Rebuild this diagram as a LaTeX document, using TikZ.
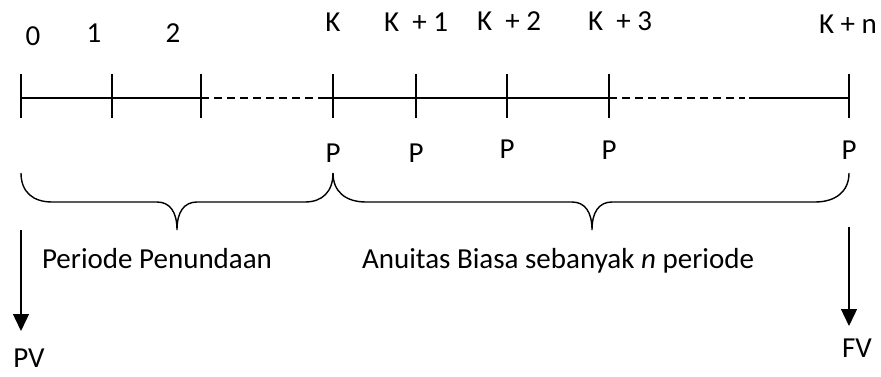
\documentclass[tikz,border=0pt]{standalone}
\usepackage{fontspec}
\setmainfont{Carlito}
\usetikzlibrary{arrows.meta}
\begin{document}
\begin{tikzpicture}[x=1pt,y=-1pt,
  lbl/.style={anchor=base,inner sep=0pt,font=\fontsize{29}{34}\selectfont},
  axis/.style={line width=1.4pt},
  tick/.style={line width=1.4pt},
  dashaxis/.style={line width=1.4pt,dash pattern=on 8pt off 5pt},
  brc/.style={line width=1.4pt},
  arr/.style={line width=1.4pt,-{Triangle[width=16pt,length=17pt]}}]
\useasboundingbox (0,0) rectangle (881,377);
% tick coordinates
\foreach \n/\x in {t0/21,t1/112,t2/201,tk/333,tk1/416,tk2/507,tk3/609,tkn/849}{
  \coordinate (\n) at (\x,98);
  \draw[tick] (\x,74) -- (\x,118);
}
\coordinate (d1e) at (325,98);
\coordinate (d2e) at (745,98);
\coordinate (s3) at (749,98);
% axis
\draw[axis] (t0) -- (t2);
\draw[dashaxis] (t2) -- (d1e);
\draw[axis] (d1e) -- (tk3);
\draw[dashaxis] (tk3) -- (d2e);
\draw[axis] (s3) -- (tkn);
% top labels
\node[lbl] (l0) at (33,46) {0};
\node[lbl] (l1) at (94,43) {1};
\node[lbl] (l2) at (173,43) {2};
\node[lbl] (lk) at (333,32) {K};
\node[lbl] (lk1) at (416,32) {K\ \ +\ 1};
\node[lbl] (lk2) at (509,31) {K\ \ +\ 2};
\node[lbl] (lk3) at (620,31) {K\ \ +\ 3};
\node[lbl] (lkn) at (848,34) {K + n};
% P labels
\node[lbl] (pk) at (333,163) {P};
\node[lbl] (pk1) at (416,163) {P};
\node[lbl] (pk2) at (507,158) {P};
\node[lbl] (pk3) at (609,160) {P};
\node[lbl] (pkn) at (849,160) {P};
% braces
\draw[brc] (21,173) .. controls (21,192) and (33,202) .. (52,202)
  -- (157,202) .. controls (170,202) and (177,212) .. (177,230)
  .. controls (177,212) and (184,202) .. (197,202)
  -- (305,202) .. controls (322,202) and (333,192) .. (333,173);
\draw[brc] (333,173) .. controls (333,192) and (346,202) .. (366,202)
  -- (572,202) .. controls (585,202) and (592,212) .. (592,230)
  .. controls (592,212) and (599,202) .. (612,202)
  -- (815,202) .. controls (835,202) and (849,192) .. (849,173);
% brace texts
\node[lbl] (tp) at (157,268) {Periode Penundaan};
\node[lbl] (ta) at (558,268) {Anuitas Biasa sebanyak \textit{n} periode};
% arrows
\coordinate (a1s) at (21,230);
\coordinate (a1e) at (21,331);
\coordinate (a2s) at (849,227);
\coordinate (a2e) at (849,326);
\draw[arr] (a1s) -- (a1e);
\draw[arr] (a2s) -- (a2e);
\node[lbl] (pv) at (29,367) {PV};
\node[lbl] (fv) at (857,357) {FV};
\end{tikzpicture}
\end{document}
